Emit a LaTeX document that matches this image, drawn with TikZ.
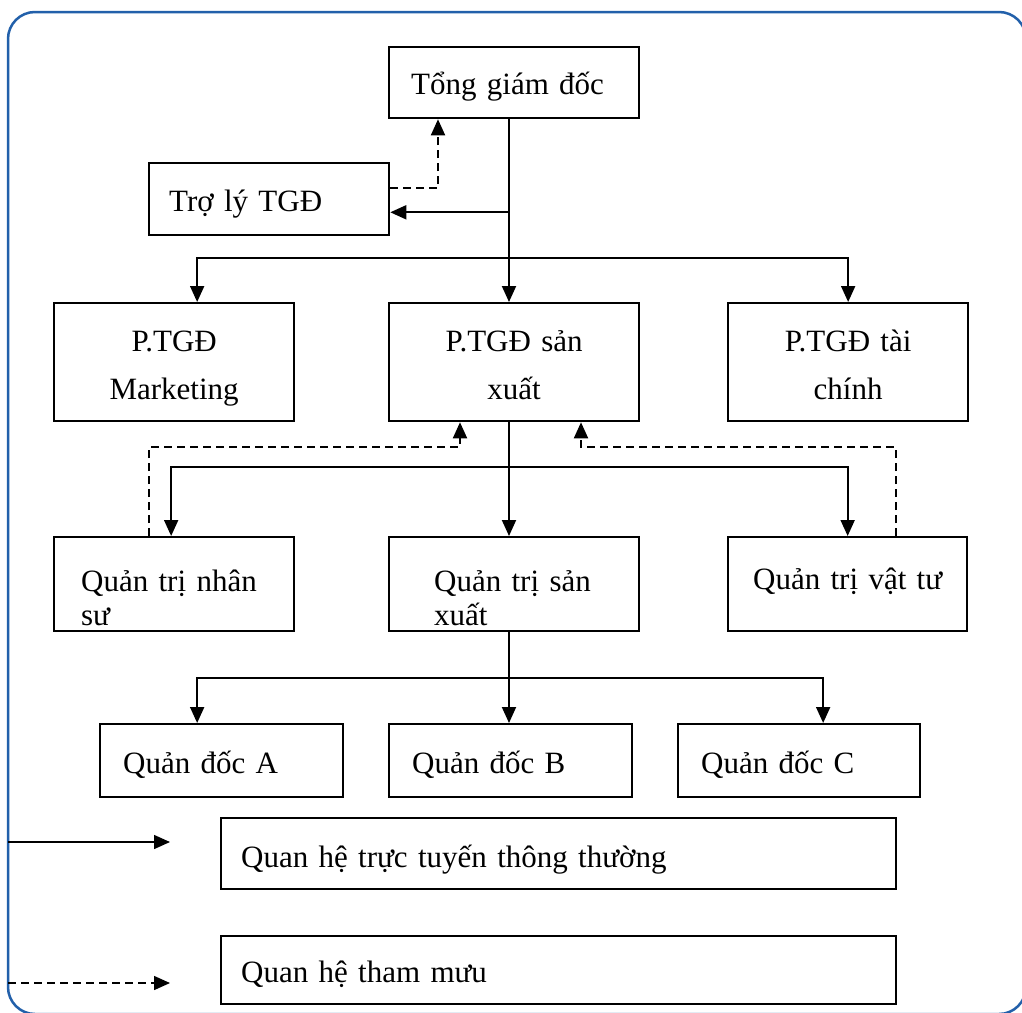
\documentclass[tikz,border=0pt]{standalone}
\usepackage{fontspec}
\setmainfont{Liberation Serif}
\usetikzlibrary{arrows.meta}
\definecolor{framebl}{RGB}{34,96,170}
\begin{document}
\begin{tikzpicture}[x=1pt,y=-1pt,
  box/.style={draw, line width=2.3pt, anchor=north west, inner ysep=0pt,
    font=\fontsize{31}{34}\selectfont},
  lbox/.style={box, align=left},
  cbox/.style={box, align=center, inner xsep=0pt, font=\fontsize{31}{48}\selectfont},
  link/.style={line width=1.9pt, -{Triangle[length=16pt,width=14pt]}},
  staff/.style={link, dash pattern=on 8pt off 5pt},
]
\useasboundingbox (0,0) rectangle (1022,1012);
% outer frame
\begin{scope}
  \clip (0,0) rectangle (1022,1012);
  \draw[framebl, line width=2.5pt, rounded corners=27pt] (8,12) rectangle (1026,1014);
\end{scope}

% boxes
\node[lbox, inner xsep=22pt, text width=206pt, text height=47pt, text depth=24pt] (tong) at (388,46) {Tổng giám đốc};
\node[lbox, inner xsep=20pt, text width=200pt, text height=48pt, text depth=24pt] (tly) at (148,162) {Trợ lý TGĐ};

\node[cbox, text width=240pt, text height=48pt, text depth=70pt] (ptm) at (53,302) {P.TGĐ\\Marketing};
\node[cbox, text width=250pt, text height=48pt, text depth=70pt] (pts) at (388,302) {P.TGĐ sản\\xuất};
\node[cbox, text width=240pt, text height=48pt, text depth=70pt] (ptt) at (727,302) {P.TGĐ tài\\chính};

\node[lbox, inner xsep=27pt, text width=186pt, text height=54pt, text depth=40pt] (qns) at (53,536) {Quản trị nhân\\sư};
\node[lbox, inner xsep=45pt, text width=160pt, text height=54pt, text depth=40pt] (qsx) at (388,536) {Quản trị sản\\xuất};
\node[lbox, inner xsep=25pt, text width=189pt, text height=52pt, text depth=42pt] (qvt) at (727,536) {\mbox{Quản trị vật tư}};

\node[lbox, inner xsep=23pt, text width=197pt, text height=49pt, text depth=24pt] (qa) at (99,723) {Quản đốc A};
\node[lbox, inner xsep=23pt, text width=197pt, text height=49pt, text depth=24pt] (qb) at (388,723) {Quản đốc B};
\node[lbox, inner xsep=23pt, text width=196pt, text height=49pt, text depth=24pt] (qc) at (677,723) {Quản đốc C};

\node[lbox, inner xsep=20pt, text width=635pt, text height=49pt, text depth=22pt] (lg1) at (220,817) {Quan hệ trực tuyến thông thường};
\node[lbox, inner xsep=20pt, text width=635pt, text height=46pt, text depth=22pt] (lg2) at (220,935) {Quan hệ tham mưu};

% helper positions
\coordinate (c1) at (509,0);
\coordinate (c2) at (438,0);
\coordinate (r2) at (0,258);
\coordinate (r3) at (0,467);
\coordinate (r4) at (0,678);
\coordinate (d1) at (460,447);
\coordinate (d2) at (581,447);
\path ([yshift=24pt]tly.south east) coordinate (tlyin);
\path ([yshift=48pt]tly.south east) coordinate (tlyout);

% line relations
\draw[link] (tong.south -| c1) -- (pts.north -| c1);
\draw[link] (tlyin -| c1) -- (tlyin);
\draw[link] (c1 |- r2) -| ([xshift=23pt]ptm.north);
\draw[link] (c1 |- r2) -| (ptt.north);

\draw[link] (pts.south -| c1) -- (qsx.north -| c1);
\draw[link] (c1 |- r3) -| ([xshift=-3pt]qns.north);
\draw[link] (c1 |- r3) -| (qvt.north);

\draw[link] (qsx.south -| c1) -- (qb.north -| c1);
\draw[link] (c1 |- r4) -| ([xshift=-24.5pt]qa.north);
\draw[link] (c1 |- r4) -| ([xshift=24pt]qc.north);

% staff relations
\draw[staff] (tlyout) -| (c2 |- tong.south);
\draw[staff] ([xshift=-25pt]qns.north) |- (d1) -- (d1 |- pts.south);
\draw[staff] ([xshift=48pt]qvt.north) |- (d2) -- (d2 |- pts.south);

% legend arrows
\coordinate (s1) at (8,842);
\coordinate (e1) at (170,842);
\coordinate (s2) at (8,983);
\coordinate (e2) at (170,983);
\draw[link, line width=1.5pt] (s1) -- (e1);
\draw[staff, line width=1.5pt] (s2) -- (e2);
\end{tikzpicture}
\end{document}
